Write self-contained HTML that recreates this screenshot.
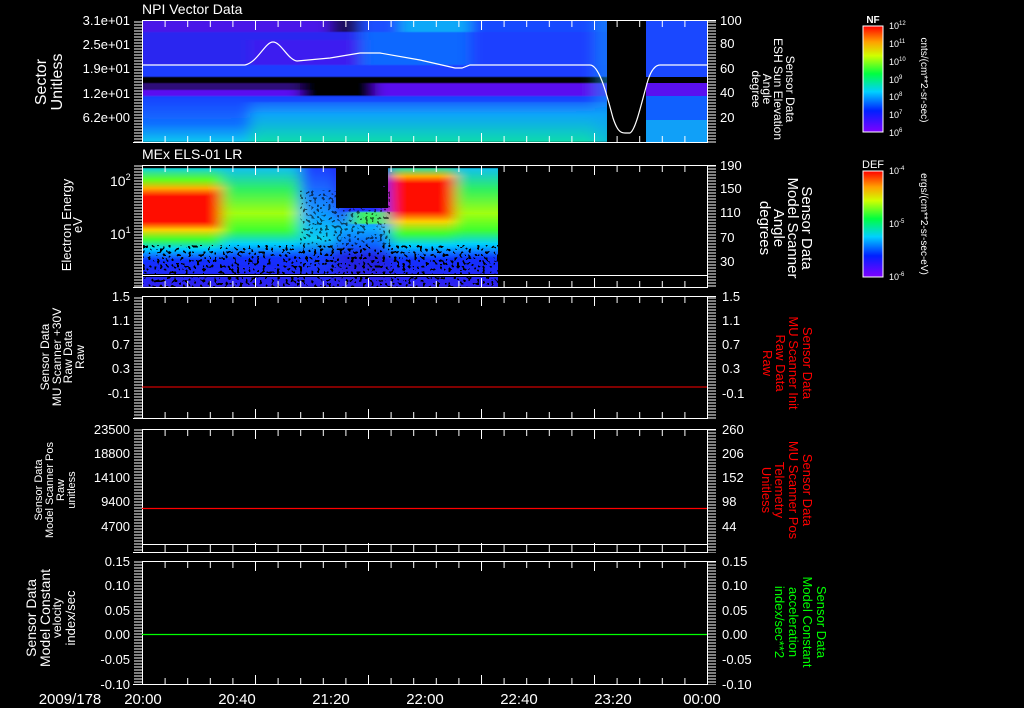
<!DOCTYPE html>
<html><head><meta charset="utf-8"><style>
html,body{margin:0;padding:0;background:#000;width:1024px;height:708px;overflow:hidden}
svg{display:block}
text{font-family:"Liberation Sans",sans-serif;fill:#fff}
</style></head><body>
<svg width="1024" height="708" xmlns="http://www.w3.org/2000/svg">
<defs>
<linearGradient id="rb" x1="0" y1="1" x2="0" y2="0">
<stop offset="0" stop-color="#8000ff"/><stop offset="0.2" stop-color="#0020ff"/><stop offset="0.38" stop-color="#00d0ff"/><stop offset="0.55" stop-color="#00ff40"/><stop offset="0.72" stop-color="#d0ff00"/><stop offset="0.85" stop-color="#ffa000"/><stop offset="1" stop-color="#ff0000"/>
</linearGradient>
<linearGradient id="gA" gradientUnits="userSpaceOnUse" x1="0" y1="168" x2="0" y2="287">
<stop offset="0" stop-color="#10d0e0"/><stop offset="0.1" stop-color="#60ff20"/><stop offset="0.17" stop-color="#ffb000"/><stop offset="0.24" stop-color="#ff1000"/><stop offset="0.45" stop-color="#ff1000"/><stop offset="0.52" stop-color="#ffd000"/><stop offset="0.6" stop-color="#40ff30"/><stop offset="0.68" stop-color="#00d0ff"/><stop offset="0.78" stop-color="#1030ff"/><stop offset="1" stop-color="#3020f0"/>
</linearGradient>
<linearGradient id="gE" gradientUnits="userSpaceOnUse" x1="0" y1="168" x2="0" y2="287">
<stop offset="0" stop-color="#20e0b0"/><stop offset="0.07" stop-color="#ffb000"/><stop offset="0.13" stop-color="#ff1000"/><stop offset="0.36" stop-color="#ff1000"/><stop offset="0.45" stop-color="#ffd000"/><stop offset="0.55" stop-color="#40ff30"/><stop offset="0.65" stop-color="#00d0ff"/><stop offset="0.77" stop-color="#1030ff"/><stop offset="1" stop-color="#3020f0"/>
</linearGradient>
<linearGradient id="gB" gradientUnits="userSpaceOnUse" x1="0" y1="168" x2="0" y2="287">
<stop offset="0" stop-color="#10c0f0"/><stop offset="0.18" stop-color="#30f060"/><stop offset="0.38" stop-color="#a0ff10"/><stop offset="0.52" stop-color="#40ff30"/><stop offset="0.64" stop-color="#00d0ff"/><stop offset="0.76" stop-color="#1030ff"/><stop offset="1" stop-color="#3020f0"/>
</linearGradient>
<linearGradient id="gC" gradientUnits="userSpaceOnUse" x1="0" y1="168" x2="0" y2="287">
<stop offset="0" stop-color="#2040ff"/><stop offset="0.4" stop-color="#10a0ff"/><stop offset="0.6" stop-color="#10d0f0"/><stop offset="0.75" stop-color="#1040ff"/><stop offset="1" stop-color="#3020f0"/>
</linearGradient>
<linearGradient id="gD" gradientUnits="userSpaceOnUse" x1="0" y1="168" x2="0" y2="287">
<stop offset="0" stop-color="#2020f0"/><stop offset="0.35" stop-color="#2030ff"/><stop offset="0.5" stop-color="#10b0ff"/><stop offset="0.65" stop-color="#1060ff"/><stop offset="0.75" stop-color="#2020e0"/><stop offset="1" stop-color="#3020f0"/>
</linearGradient>
<linearGradient id="g1" gradientUnits="userSpaceOnUse" x1="0" y1="96" x2="0" y2="142">
<stop offset="0" stop-color="#1840ff"/><stop offset="0.6" stop-color="#1070ff"/><stop offset="1" stop-color="#10c8f0"/>
</linearGradient>
<linearGradient id="g1m" gradientUnits="userSpaceOnUse" x1="0" y1="96" x2="0" y2="142">
<stop offset="0" stop-color="#1848ff"/><stop offset="0.4" stop-color="#10b0f8"/><stop offset="1" stop-color="#10e0a0"/>
</linearGradient>
<filter id="hb" x="-0.05" y="0" width="1.1" height="1"><feGaussianBlur stdDeviation="7 0.6"/></filter>
<clipPath id="c1"><rect x="142" y="20" width="465" height="122"/></clipPath>
<clipPath id="c2"><rect x="142" y="168" width="356" height="119"/></clipPath>
<filter id="spk" x="0" y="0" width="1" height="1">
<feTurbulence type="fractalNoise" baseFrequency="0.35" numOctaves="1" seed="3" result="t"/>
<feComponentTransfer in="t" result="m"><feFuncR type="discrete" tableValues="1 1 0 0 0"/></feComponentTransfer>
<feColorMatrix in="m" type="matrix" values="0 0 0 0 0  0 0 0 0 0  0 0 0 0 0  1 0 0 0 0"/>
</filter>
<filter id="spk2" x="0" y="0" width="1" height="1">
<feTurbulence type="fractalNoise" baseFrequency="0.35" numOctaves="1" seed="7" result="t"/>
<feComponentTransfer in="t" result="m"><feFuncR type="discrete" tableValues="1 1 1 1 0"/></feComponentTransfer>
<feColorMatrix in="m" type="matrix" values="0 0 0 0 0  0 0 0 0 0  0 0 0 0 0  1 0 0 0 0"/>
</filter>
<pattern id="hl" width="8" height="3" patternUnits="userSpaceOnUse" x="0" y="0.5"><rect x="0" y="0" width="8" height="1" fill="#fff"/></pattern>
<pattern id="vt" width="22.6" height="10" patternUnits="userSpaceOnUse" x="142" y="0"><rect x="0" y="0" width="1" height="10" fill="#fff"/></pattern>
<pattern id="vT" width="113" height="10" patternUnits="userSpaceOnUse" x="142" y="0"><rect x="0" y="0" width="1" height="10" fill="#fff"/></pattern>
</defs>

<!-- panel 1 spectrogram -->
<g clip-path="url(#c1)"><g filter="url(#hb)">
<rect x="130" y="20" width="230" height="12" fill="#4a18e8"/>
<rect x="360" y="20" width="40" height="12" fill="#1a50ff"/>
<rect x="400" y="20" width="70" height="12" fill="#10a8f8"/>
<rect x="470" y="20" width="150" height="12" fill="#1848ff"/>
<rect x="130" y="32" width="230" height="33" fill="#2a28f0"/>
<rect x="250" y="40" width="110" height="25" fill="#3c1cf0"/>
<rect x="360" y="32" width="110" height="33" fill="#1068ff"/>
<rect x="470" y="32" width="150" height="33" fill="#1a40ff"/>
<rect x="130" y="65" width="490" height="12" fill="#1a3cff"/>
<rect x="130" y="83" width="490" height="13" fill="#5a10f0"/>
<rect x="300" y="83" width="75" height="13" fill="#000"/>
<rect x="130" y="83" width="170" height="7" fill="#000" opacity="0.5"/>
<rect x="130" y="96" width="490" height="46" fill="url(#g1)"/>
<rect x="250" y="102" width="370" height="40" fill="url(#g1m)" opacity="0.85"/>
<rect x="330" y="20" width="30" height="12" fill="#000" opacity="0.6"/>
<rect x="595" y="20" width="25" height="122" fill="#10a0f8" opacity="0.5"/>
</g></g>
<rect x="646" y="20" width="61" height="57" fill="#1a48ff"/>
<rect x="646" y="83" width="61" height="13" fill="#5a10f0"/>
<rect x="646" y="96" width="61" height="46" fill="#1060ff"/>
<rect x="646" y="120" width="61" height="22" fill="#10a0f8"/>

<!-- panel 2 spectrogram -->
<g clip-path="url(#c2)"><g filter="url(#hb)">
<rect x="125" y="168" width="97" height="119" fill="url(#gA)"/>
<rect x="222" y="168" width="78" height="119" fill="url(#gB)"/>
<rect x="300" y="168" width="35" height="119" fill="url(#gC)"/>
<rect x="335" y="168" width="55" height="119" fill="url(#gD)"/>
<rect x="352" y="212" width="34" height="12" fill="#40f060"/>
<rect x="390" y="168" width="65" height="119" fill="url(#gE)"/>
<rect x="455" y="168" width="60" height="119" fill="url(#gB)"/>
</g></g>
<rect x="336" y="168" width="52" height="40" fill="#000" filter="url(#spk2)"/>
<rect x="142" y="245" width="356" height="42" fill="#000" filter="url(#spk)"/>
<rect x="300" y="190" width="90" height="55" fill="#000" filter="url(#spk)" opacity="0.6"/>
<rect x="142" y="274" width="565" height="3" fill="#000"/>

<!-- axes frames & ticks -->
<g fill="none" stroke="#fff" stroke-width="1">
<rect x="142.5" y="20.5" width="565" height="122"/>
<rect x="142.5" y="165.5" width="565" height="122"/>
<rect x="142.5" y="296.5" width="565" height="122"/>
<rect x="142.5" y="429.5" width="565" height="123"/>
<rect x="142.5" y="561.5" width="565" height="123"/>
<line x1="133" y1="142.5" x2="142" y2="142.5"/><line x1="708" y1="20.5" x2="716" y2="20.5"/>
<line x1="133" y1="287.5" x2="142" y2="287.5"/><line x1="708" y1="165.5" x2="716" y2="165.5"/>
<line x1="133" y1="418.5" x2="142" y2="418.5"/><line x1="708" y1="296.5" x2="716" y2="296.5"/>
<line x1="133" y1="552.5" x2="142" y2="552.5"/><line x1="708" y1="429.5" x2="716" y2="429.5"/>
<line x1="133" y1="684.5" x2="142" y2="684.5"/><line x1="708" y1="561.5" x2="716" y2="561.5"/>
<line x1="142" y1="544.5" x2="707" y2="544.5"/>
</g>
<g>
<rect x="134" y="20" width="8" height="123" fill="url(#hl)"/><rect x="708" y="20" width="8" height="123" fill="url(#hl)"/>
<rect x="134" y="165" width="8" height="123" fill="url(#hl)"/><rect x="708" y="165" width="8" height="123" fill="url(#hl)"/>
<rect x="134" y="296" width="8" height="123" fill="url(#hl)"/><rect x="708" y="296" width="8" height="123" fill="url(#hl)"/>
<rect x="134" y="429" width="8" height="124" fill="url(#hl)"/><rect x="708" y="429" width="8" height="124" fill="url(#hl)"/>
<rect x="134" y="561" width="8" height="124" fill="url(#hl)"/><rect x="708" y="561" width="8" height="124" fill="url(#hl)"/>
<rect x="142" y="21" width="566" height="6" fill="url(#vt)"/><rect x="142" y="21" width="566" height="9" fill="url(#vT)"/>
<rect x="142" y="136" width="566" height="6" fill="url(#vt)"/><rect x="142" y="133" width="566" height="9" fill="url(#vT)"/>
<rect x="142" y="166" width="566" height="6" fill="url(#vt)"/><rect x="142" y="166" width="566" height="9" fill="url(#vT)"/>
<rect x="142" y="281" width="566" height="6" fill="url(#vt)"/><rect x="142" y="278" width="566" height="9" fill="url(#vT)"/>
<rect x="142" y="297" width="566" height="6" fill="url(#vt)"/><rect x="142" y="297" width="566" height="9" fill="url(#vT)"/>
<rect x="142" y="412" width="566" height="6" fill="url(#vt)"/><rect x="142" y="409" width="566" height="9" fill="url(#vT)"/>
<rect x="142" y="430" width="566" height="6" fill="url(#vt)"/><rect x="142" y="430" width="566" height="9" fill="url(#vT)"/>
<rect x="142" y="545" width="566" height="7" fill="url(#vt)"/><rect x="142" y="543" width="566" height="9" fill="url(#vT)"/>
<rect x="142" y="562" width="566" height="6" fill="url(#vt)"/><rect x="142" y="562" width="566" height="9" fill="url(#vT)"/>
<rect x="142" y="678" width="566" height="6" fill="url(#vt)"/><rect x="142" y="675" width="566" height="9" fill="url(#vT)"/>
</g>

<text x="142" y="14" font-size="14">NPI Vector Data</text>
<text x="142" y="159" font-size="14">MEx ELS-01 LR</text>
<g font-size="13" text-anchor="end">
<text x="130" y="25">3.1e+01</text><text x="130" y="49">2.5e+01</text><text x="130" y="73">1.9e+01</text><text x="130" y="98">1.2e+01</text><text x="130" y="122">6.2e+00</text>
<text x="130" y="301">1.5</text><text x="130" y="325">1.1</text><text x="130" y="349">0.7</text><text x="130" y="373">0.3</text><text x="130" y="398">-0.1</text>
<text x="130" y="434">23500</text><text x="130" y="458">18800</text><text x="130" y="482">14100</text><text x="130" y="506">9400</text><text x="130" y="531">4700</text>
<text x="130" y="566">0.15</text><text x="130" y="590">0.10</text><text x="130" y="615">0.05</text><text x="130" y="639">0.00</text><text x="130" y="664">-0.05</text><text x="130" y="689">-0.10</text>
</g>
<g font-size="13">
<text x="720" y="25">100</text><text x="720" y="48">80</text><text x="720" y="73">60</text><text x="720" y="97">40</text><text x="720" y="122">20</text>
<text x="720" y="170">190</text><text x="720" y="193">150</text><text x="720" y="217">110</text><text x="720" y="242">70</text><text x="720" y="266">30</text>
<text x="722" y="301">1.5</text><text x="722" y="325">1.1</text><text x="722" y="349">0.7</text><text x="722" y="373">0.3</text><text x="722" y="398">-0.1</text>
<text x="722" y="434">260</text><text x="722" y="458">206</text><text x="722" y="482">152</text><text x="722" y="506">98</text><text x="722" y="531">44</text>
<text x="722" y="566">0.15</text><text x="722" y="590">0.10</text><text x="722" y="615">0.05</text><text x="722" y="639">0.00</text><text x="722" y="664">-0.05</text><text x="722" y="689">-0.10</text>
<text x="110" y="186" font-size="14">10<tspan font-size="9" dy="-6">2</tspan></text>
<text x="110" y="239" font-size="14">10<tspan font-size="9" dy="-6">1</tspan></text>
</g>
<g font-size="15" text-anchor="middle">
<text x="70" y="704">2009/178</text><text x="143" y="704">20:00</text><text x="237" y="704">20:40</text><text x="331" y="704">21:20</text><text x="425" y="704">22:00</text><text x="519" y="704">22:40</text><text x="613" y="704">23:20</text><text x="702" y="704">00:00</text>
</g>
<g text-anchor="middle">
<text transform="translate(46,82) rotate(-90)" font-size="16">Sector</text>
<text transform="translate(62,82) rotate(-90)" font-size="16">Unitless</text>
<text transform="translate(71,225) rotate(-90)" font-size="13">Electron Energy</text>
<text transform="translate(82,225) rotate(-90)" font-size="13">eV</text>
<text transform="translate(49,357) rotate(-90)" font-size="12">Sensor Data</text>
<text transform="translate(61,357) rotate(-90)" font-size="12">MU Scanner +30V</text>
<text transform="translate(72,357) rotate(-90)" font-size="12">Raw Data</text>
<text transform="translate(84,357) rotate(-90)" font-size="12">Raw</text>
<text transform="translate(42,490) rotate(-90)" font-size="11">Sensor Data</text>
<text transform="translate(53,490) rotate(-90)" font-size="11">Model Scanner Pos</text>
<text transform="translate(64,490) rotate(-90)" font-size="11">Raw</text>
<text transform="translate(75,490) rotate(-90)" font-size="11">unitless</text>
<text transform="translate(36,618) rotate(-90)" font-size="14">Sensor Data</text>
<text transform="translate(50,618) rotate(-90)" font-size="14">Model Constant</text>
<text transform="translate(61,618) rotate(-90)" font-size="12">velocity</text>
<text transform="translate(75,618) rotate(-90)" font-size="13">index/sec</text>
</g>
<g text-anchor="middle">
<text transform="translate(786,89) rotate(90)" font-size="12">Sensor Data</text>
<text transform="translate(774,89) rotate(90)" font-size="12">ESH Sun Elevation</text>
<text transform="translate(763,89) rotate(90)" font-size="12">Angle</text>
<text transform="translate(752,89) rotate(90)" font-size="12">degree</text>
<text transform="translate(802,228) rotate(90)" font-size="15">Sensor Data</text>
<text transform="translate(788,228) rotate(90)" font-size="15">Model Scanner</text>
<text transform="translate(774,228) rotate(90)" font-size="15">Angle</text>
<text transform="translate(760,228) rotate(90)" font-size="15">degrees</text>
<g font-size="13">
<text style="fill:#f00" transform="translate(803,363) rotate(90)">Sensor Data</text>
<text style="fill:#f00" transform="translate(789,363) rotate(90)">MU Scanner Init</text>
<text style="fill:#f00" transform="translate(776,363) rotate(90)">Raw Data</text>
<text style="fill:#f00" transform="translate(763,363) rotate(90)">Raw</text>
<text style="fill:#f00" transform="translate(803,490) rotate(90)">Sensor Data</text>
<text style="fill:#f00" transform="translate(789,490) rotate(90)">MU Scanner Pos</text>
<text style="fill:#f00" transform="translate(775,490) rotate(90)">Telemetry</text>
<text style="fill:#f00" transform="translate(762,490) rotate(90)">Unitless</text>
<text style="fill:#0f0" transform="translate(817,622) rotate(90)">Sensor Data</text>
<text style="fill:#0f0" transform="translate(803,622) rotate(90)">Model Constant</text>
<text style="fill:#0f0" transform="translate(789,622) rotate(90)">acceleration</text>
<text style="fill:#0f0" transform="translate(775,622) rotate(90)">index/sec**2</text>
</g>
</g>
<rect x="863" y="26" width="20" height="106" fill="url(#rb)" stroke="#fff"/>
<rect x="863" y="171" width="20" height="106" fill="url(#rb)" stroke="#fff"/>
<text x="873" y="23" font-size="10" text-anchor="middle" font-weight="bold">NF</text>
<text x="873" y="168" font-size="11" text-anchor="middle">DEF</text>
<g font-size="9">
<text x="889" y="29">10<tspan font-size="6" dy="-4">12</tspan></text>
<text x="889" y="47">10<tspan font-size="6" dy="-4">11</tspan></text>
<text x="889" y="65">10<tspan font-size="6" dy="-4">10</tspan></text>
<text x="889" y="83">10<tspan font-size="6" dy="-4">9</tspan></text>
<text x="889" y="100">10<tspan font-size="6" dy="-4">8</tspan></text>
<text x="889" y="118">10<tspan font-size="6" dy="-4">7</tspan></text>
<text x="889" y="136">10<tspan font-size="6" dy="-4">6</tspan></text>
<text x="889" y="174">10<tspan font-size="6" dy="-4">-4</tspan></text>
<text x="889" y="227">10<tspan font-size="6" dy="-4">-5</tspan></text>
<text x="889" y="280">10<tspan font-size="6" dy="-4">-6</tspan></text>
</g>
<text transform="translate(921,80) rotate(90)" font-size="10" text-anchor="middle">cnts/(cm**2-sr-sec)</text>
<text transform="translate(921,224) rotate(90)" font-size="10" text-anchor="middle">ergs/(cm**2-sr-sec-eV)</text>
<line x1="142" y1="387" x2="707" y2="387" stroke="#f00" stroke-width="1"/>
<line x1="142" y1="508.5" x2="707" y2="508.5" stroke="#f00" stroke-width="1.3"/>
<line x1="142" y1="634.5" x2="707" y2="634.5" stroke="#0f0" stroke-width="1.3"/>
<line x1="142" y1="275.5" x2="707" y2="275.5" stroke="#fff" stroke-width="1"/>
<path d="M142,65 L245,65 C258,62 265,42 273,42 C281,42 288,60 297,61 L330,58 L360,53 L380,53 L420,60 L455,68 L462,68 L470,65 L590,65 C600,65 608,100 613,118 C617,130 620,133 625,133 L630,133 C636,130 642,100 648,80 C652,68 656,65 660,65 L707,65" stroke="#fff" fill="none" stroke-width="1.2"/>
</svg>
</body></html>
